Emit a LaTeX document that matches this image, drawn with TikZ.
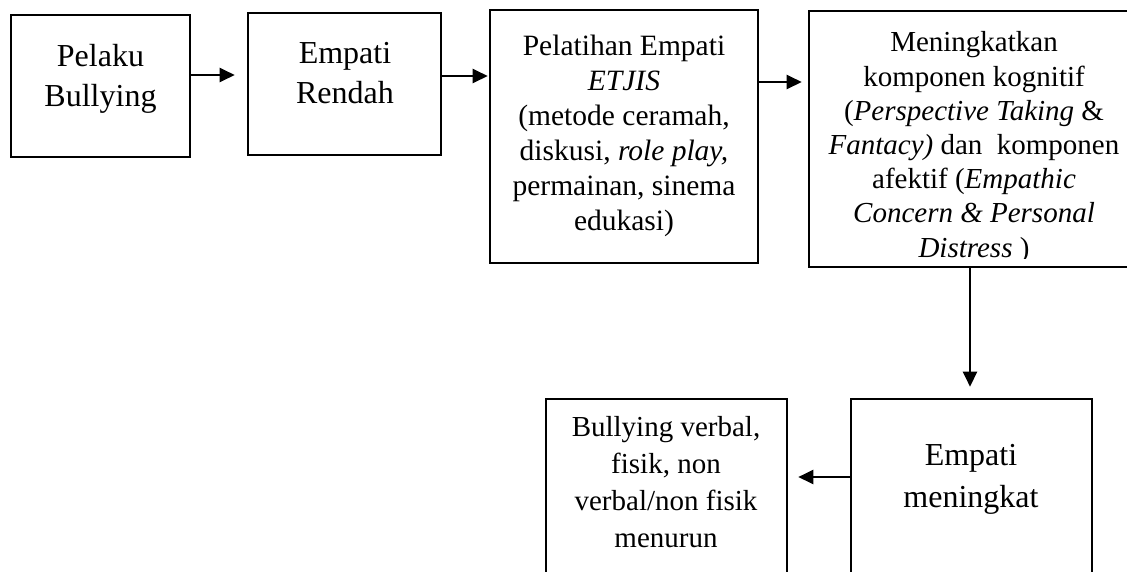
\documentclass[tikz,border=0pt]{standalone}
\usepackage{fontspec}
\setmainfont{Liberation Serif}
\usetikzlibrary{arrows.meta}
\begin{document}
\begin{tikzpicture}[x=1pt,y=-1pt,
  box/.style={draw=black,line width=2.6pt,inner sep=0pt,fill=none},
  txt/.style={align=center,inner sep=0pt,anchor=base},
  arr/.style={line width=2.4pt,-{Triangle[length=15pt,width=14pt]}}]
\useasboundingbox (0,0) rectangle (1127,571);
\clip (0,0) rectangle (1127,571);
% boxes
\node[box,minimum width=179pt,minimum height=142pt] (b1) at (100.5,86) {};
\node[box,minimum width=193pt,minimum height=142pt] (b2) at (344.5,84) {};
\node[box,minimum width=268pt,minimum height=253pt] (b3) at (624,136.5) {};
\node[box,minimum width=326pt,minimum height=256pt] (b4) at (972,139) {};
\node[box,minimum width=241pt,minimum height=191pt] (b5) at (666.5,494.5) {};
\node[box,minimum width=241pt,minimum height=191pt] (b6) at (971.5,494.5) {};
% texts (base anchor = baseline of the last line)
\node[txt,font=\fontsize{32}{40}\selectfont] (t1) at (100.5,106) {Pelaku\\Bullying};
\node[txt,font=\fontsize{32}{40}\selectfont] (t2) at (345,103) {Empati\\Rendah};
\node[txt,font=\fontsize{29.5}{35}\selectfont] (t3) at (624,230) {Pelatihan Empati\\\textit{ETJIS}\\(metode ceramah,\\diskusi, \textit{role play,}\\permainan, sinema\\edukasi)};
\begin{scope}
\clip (809,0) rectangle (1127,258);
\node[txt,font=\fontsize{29}{34.2}\selectfont] (t4) at (974,257) {Meningkatkan\\komponen kognitif\\(\textit{Perspective Taking} \&\\\textit{Fantacy)} dan\ \ komponen\\afektif (\textit{Empathic}\\\textit{Concern \& Personal}\\\textit{Distress} )};
\end{scope}
\node[txt,font=\fontsize{29}{36.7}\selectfont] (t5) at (666,547) {Bullying verbal,\\fisik, non\\verbal/non fisik\\menurun};
\node[txt,font=\fontsize{32}{42}\selectfont] (t6) at (971,507) {Empati\\meningkat};
% connectors
\draw[arr,shorten >=12pt] (b1.east |- 0,75) -- (b2.west |- 0,75);
\draw[arr,shorten >=1pt] (b2.east |- 0,76) -- (b3.west |- 0,76);
\draw[arr,shorten >=6pt] (b3.east |- 0,82) -- (b4.west |- 0,82);
\draw[arr,shorten >=11pt] (b4.south -| 970,0) -- (b6.north -| 970,0);
\draw[arr,shorten >=10pt] (b6.west |- 0,477) -- (b5.east |- 0,477);
\end{tikzpicture}
\end{document}
